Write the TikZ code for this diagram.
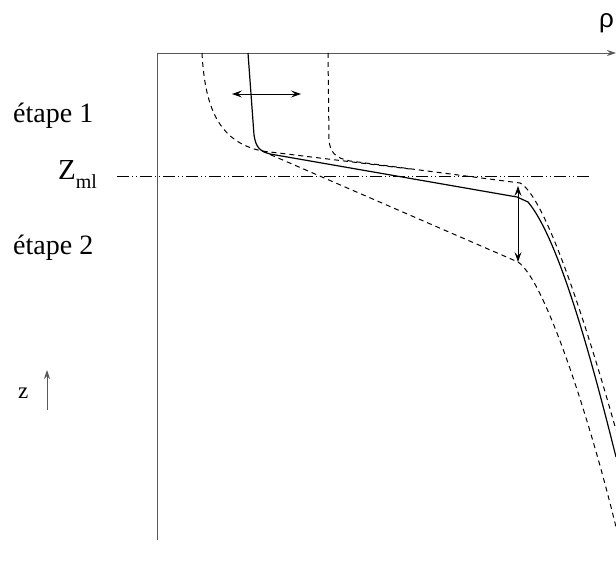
\documentclass[tikz,border=0pt]{standalone}
\usepackage{fontspec}
\setmainfont{Liberation Serif}
\newfontfamily\sansf{Liberation Sans}
\usetikzlibrary{arrows.meta}
\definecolor{axisgray}{gray}{0.35}
\begin{document}
\begin{tikzpicture}[x=1pt,y=-1pt,
  axisline/.style={draw=axisgray,line width=0.9pt},
  profile/.style={draw=black,line width=1.2pt,line join=round},
  dprofile/.style={draw=black,line width=1pt,dash pattern=on 5pt off 4pt},
  mlline/.style={draw=black,line width=0.8pt,dash pattern=on 12pt off 3pt on 1pt off 3pt on 1pt off 3pt},
  dbl/.style={draw=black,line width=0.9pt,{Stealth[length=10pt,width=7pt,inset=4pt]}-{Stealth[length=10pt,width=7pt,inset=4pt]}},
  lbl/.style={inner sep=0pt,anchor=base west,font=\fontsize{28}{30}\selectfont}]
\useasboundingbox (0,0) rectangle (616,569);
% axes
\coordinate (o) at (157,53);
\coordinate (ybot) at (157,540);
\coordinate (xend) at (616,53);
\draw[axisline] (ybot) -- (o);
\draw[axisline,-{Stealth[length=9pt,width=6pt,inset=3pt]}] (o) -- (xend);
\node[inner sep=0pt,anchor=base west,font=\sansf\fontsize{26}{28}\selectfont] (rho) at (599,28) {ρ};
% labels
\node[lbl] (e1) at (13,123) {étape 1};
\node[lbl] (e2) at (13,255) {étape 2};
\node[inner sep=0pt,anchor=base west,font=\fontsize{29}{30}\selectfont] (zml) at (58,180) {Z\raisebox{-9pt}{\fontsize{20}{20}\selectfont ml}};
\node[inner sep=0pt,anchor=base west,font=\fontsize{23}{24}\selectfont] (z) at (18,398) {z};
\coordinate (za) at (47,410);
\coordinate (zb) at (47,370);
\draw[axisline,-{Stealth[length=9pt,width=6pt,inset=3pt]}] (za) -- (zb);
% mixed layer depth line
\coordinate (ml1) at (117,176);
\coordinate (ml2) at (590,176);
\draw[mlline] (ml1) -- (ml2);
% solid profile
\draw[profile] (248,53) -- (254,135) .. controls (256,148) and (260,151) .. (270,154)
  -- (517,197) -- (528,202) .. controls (560,240) and (594,369) .. (616,457);
% right dashed profile
\draw[dprofile] (328,53) -- (329,140) .. controls (330,152) and (335,158) .. (350,161)
  -- (520,183) .. controls (545,196) and (585,320) .. (616,430);
% left dashed profile
\draw[dprofile] (202,53) .. controls (205,110) and (220,142) .. (262,151) -- (410,169);
% deepened dashed profile
\draw[dprofile] (262,151) -- (518,262) .. controls (545,280) and (590,420) .. (616,527);
% arrows
\coordinate (h1) at (232,94);
\coordinate (h2) at (301,94);
\draw[dbl] (h1) -- (h2);
\coordinate (v1) at (518,186);
\coordinate (v2) at (518,262);
\draw[dbl] (v1) -- (v2);
\end{tikzpicture}
\end{document}
